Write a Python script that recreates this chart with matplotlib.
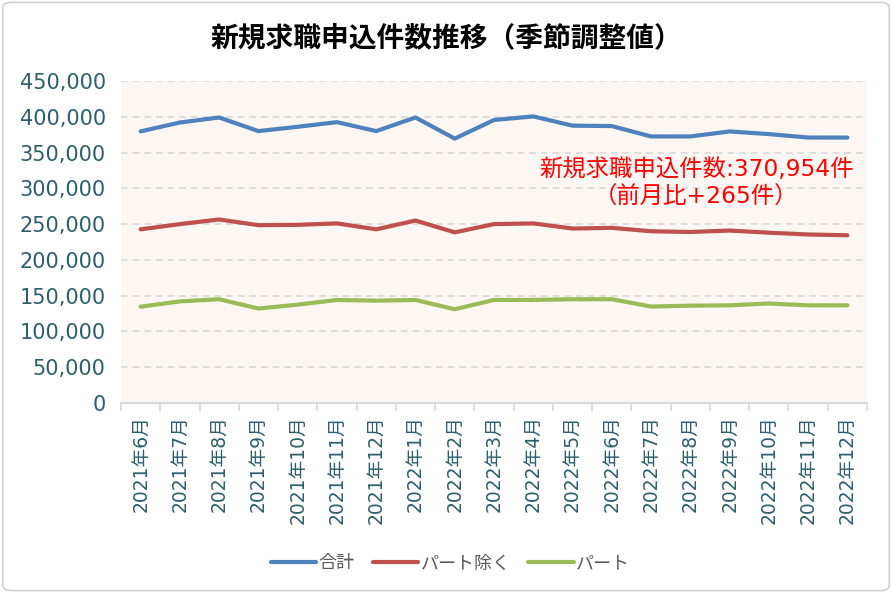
import numpy as np
import matplotlib.pyplot as plt
from matplotlib.patches import FancyBboxPatch

plt.rcParams['font.family'] = ['DejaVu Sans', 'Noto Sans CJK JP']

months = ['2021年6月', '2021年7月', '2021年8月', '2021年9月', '2021年10月', '2021年11月',
          '2021年12月', '2022年1月', '2022年2月', '2022年3月', '2022年4月', '2022年5月',
          '2022年6月', '2022年7月', '2022年8月', '2022年9月', '2022年10月', '2022年11月',
          '2022年12月']
total = [379600, 392000, 399000, 380000, 386000, 392500, 380000, 399000, 369500, 395500,
         400500, 387600, 387000, 372500, 372500, 379500, 375800, 371000, 370954]
excl_part = [242700, 250000, 256500, 248500, 249000, 251000, 242700, 255000, 238500, 250000,
             251000, 243800, 244800, 240000, 239000, 241000, 238000, 235500, 234400]
part = [134600, 142000, 145000, 132000, 137500, 144000, 143000, 144000, 131000, 144000,
        144000, 145000, 145000, 134800, 136000, 136500, 139000, 136500, 136500]

teal = '#2C5F6E'
fig = plt.figure(figsize=(8.92, 5.93), dpi=100)
border = FancyBboxPatch((0.003, 0.004), 0.994, 0.992, boxstyle='round,pad=0,rounding_size=0.01',
                        transform=fig.transFigure, facecolor='white', edgecolor='#D0D0D0', lw=1.2,
                        zorder=-10)
fig.patches.append(border)
ax = fig.add_axes([121/892, 1-403/593, (867-121)/892, (403-81)/593])
ax.set_facecolor('#FCF7F3')

x = np.arange(len(months))
ax.plot(x, total, color='#4F81BD', lw=3, label='合計', solid_capstyle='round')
ax.plot(x, excl_part, color='#C0504D', lw=3, label='パート除く', solid_capstyle='round')
ax.plot(x, part, color='#9BBB59', lw=3, label='パート', solid_capstyle='round')

ax.set_xlim(-0.5, len(months) - 0.5)
ax.set_ylim(0, 450000)
ax.set_yticks(np.arange(0, 450001, 50000))
ax.set_yticklabels([f'{v:,}' for v in range(0, 450001, 50000)], fontsize=15, color=teal)
ax.yaxis.grid(True, color='#D9D9D9', ls=(0, (4, 3)), lw=1.2)
ax.set_axisbelow(True)
ax.tick_params(axis='y', length=0, pad=11)

ax.set_xticks(x)
ax.set_xticklabels(months, rotation=90, fontsize=13.5, color=teal, va='top')
ax.tick_params(axis='x', length=0, pad=9)
ax.set_xticks(np.arange(-0.5, len(months)), minor=True)
ax.tick_params(axis='x', which='minor', length=6, color='#D9D9D9', width=1.2)

for s in ['top', 'right', 'left']:
    ax.spines[s].set_visible(False)
ax.spines['bottom'].set_color('#D9D9D9')
ax.spines['bottom'].set_linewidth(1.5)

ax.text(0.771, 0.682, '新規求職申込件数:370,954件\n（前月比+265件）', transform=ax.transAxes,
        color='#FF0000', fontsize=16.8, ha='center', va='center', linespacing=1.3)

fig.text(0.5, 0.936, '新規求職申込件数推移（季節調整値）', ha='center', va='center',
         fontsize=20, fontweight='bold', color='black')

fig.legend(loc='center', bbox_to_anchor=(0.505, 0.05), ncol=3, frameon=False, fontsize=13,
           handlelength=2.5, handletextpad=0.15, columnspacing=1.0, labelcolor='#595959')

fig.savefig('out.png', dpi=100)
plt.close()
